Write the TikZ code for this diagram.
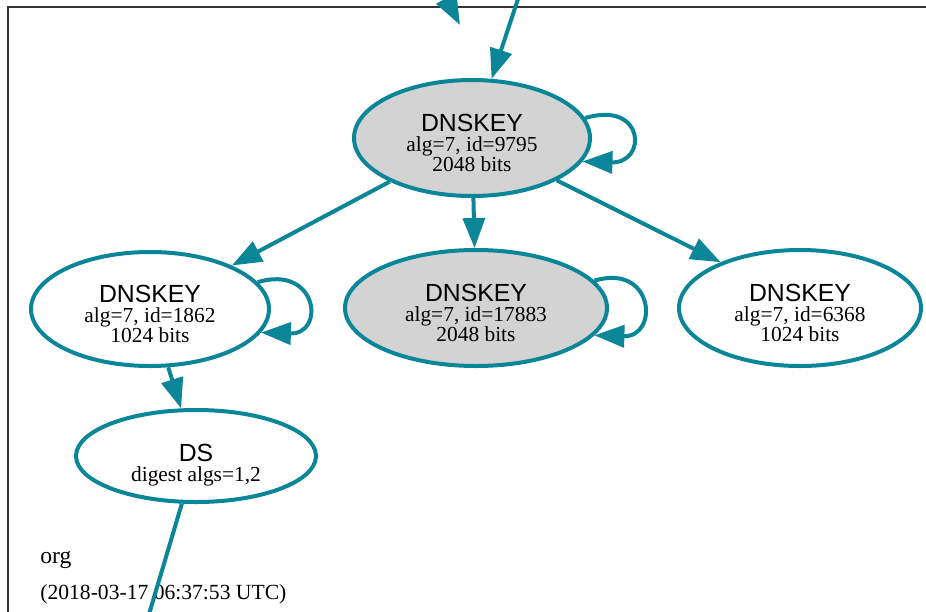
\documentclass[tikz,border=0pt]{standalone}
\usepackage{fontspec}
\setmainfont{Liberation Serif}
\setsansfont{Liberation Sans}
\usetikzlibrary{arrows.meta,shapes.geometric}
\definecolor{dnsteal}{RGB}{10,134,152}
\definecolor{kskgray}{RGB}{211,211,211}
\newcommand\kname{\sffamily\fontsize{12.4}{10}\selectfont}

\begin{document}
\begin{tikzpicture}[x=0.5pt,y=-0.5pt,
  key/.style={ellipse,draw=dnsteal,line width=2pt,inner sep=0pt,align=center,
    font=\fontsize{10.7}{10}\selectfont},
  ksk/.style={key,fill=kskgray},
  arr/.style={dnsteal,line width=2pt,-{Triangle[length=15pt,width=11pt]}},
  zone/.style={anchor=base west,inner sep=0pt,font=\fontsize{11.8}{12}\selectfont}]
  \useasboundingbox (0,0) rectangle (926,611);
  \clip (0,0) rectangle (926,611);

  \draw[line width=0.7pt,black!80] (940,7) -- (8,7) -- (8,620);

  \node[ksk,minimum width=118pt,minimum height=58pt] (k9795) at (472,138)
    {{\kname\rule{0pt}{14pt}DNSKEY}\\alg=7, id=9795\\2048 bits};
  \node[key,minimum width=119pt,minimum height=57pt] (k1862) at (150,309)
    {{\kname\rule{0pt}{14pt}DNSKEY}\\alg=7, id=1862\\1024 bits};
  \node[ksk,minimum width=131pt,minimum height=58pt] (k17883) at (476,308)
    {{\kname\rule{0pt}{14pt}DNSKEY}\\alg=7, id=17883\\2048 bits};
  \node[key,minimum width=121pt,minimum height=58pt] (k6368) at (800,308)
    {{\kname\rule{0pt}{14pt}DNSKEY}\\alg=7, id=6368\\1024 bits};
  \node[key,minimum width=120pt,minimum height=46pt] (ds) at (196,456)
    {{\kname\rule{0pt}{18pt}DS}\\digest algs=1,2};

  \node[zone] (zname) at (40,563) {org};
  \node[zone,font=\fontsize{10.8}{12}\selectfont] (ztime) at (40,599) {(2018-03-17 06:37:53 UTC)};

  \coordinate (inkey) at (521,-10);
  \coordinate (inzone) at (421,-50);
  \coordinate (zonetip) at (460,25);
  \coordinate (outds) at (147,621);

  \draw[arr] (inkey) -- (k9795);
  \draw[arr] (inzone) -- (zonetip);

  \draw[arr] (k9795) -- (k1862.28);
  \draw[arr] (k9795) -- (k17883);
  \draw[arr] (k9795) -- (k6368.150);
  \draw[arr] (k1862) -- (ds);
  \draw[dnsteal,line width=2pt] (ds) -- (outds);

  \draw[arr] (k9795.10) .. controls +(60,-18) and +(65,2) .. (k9795.-12);
  \draw[arr] (k1862.14) .. controls +(60,-18) and +(65,2) .. (k1862.-12);
  \draw[arr] (k17883.13) .. controls +(60,-18) and +(65,2) .. (k17883.-13);
\end{tikzpicture}
\end{document}
